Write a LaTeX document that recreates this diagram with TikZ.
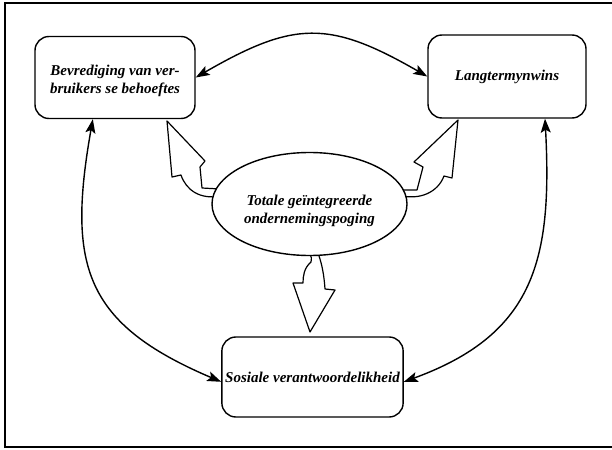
\documentclass[tikz,border=0pt]{standalone}
\usepackage{fontspec}
\setmainfont{Liberation Serif}
\usetikzlibrary{positioning,shapes.geometric,arrows.meta}

\begin{document}
\begin{tikzpicture}[x=1pt,y=1pt,>={Stealth[length=14pt,width=10pt,inset=3pt]}]
  \tikzstyle{doel}=[draw,line width=1.4pt,rounded corners=14pt,
    align=center,font=\fontsize{15}{18}\selectfont\bfseries\itshape]
  \tikzstyle{poging}=[draw,ellipse,fill=white,line width=1.4pt,inner sep=0pt,
    minimum width=195pt,minimum height=103pt,align=center,
    font=\fontsize{15}{18}\selectfont\bfseries\itshape]
  \tikzstyle{pyl}=[<->,line width=1.4pt]
  \tikzstyle{blok}=[draw,fill=white,line width=1.2pt,line join=round]
  \useasboundingbox (0,0) rectangle (612,-449);
  % frame
  \draw[line width=1.2pt] (612,-3) -- (5,-3) -- (5,-447) -- (612,-447);
  % the three goals
  \node[doel,minimum width=160pt,minimum height=82pt] (a) at (115,-77.5)
    {\rule{0pt}{17pt}Bevrediging van ver-\\bruikers se behoeftes};
  \node[doel,minimum width=158pt,minimum height=83pt] (b) at (507,-76.5)
    {Langtermynwins};
  \node[doel,minimum width=181pt,minimum height=80pt] (c) at (312.5,-377)
    {Sosiale verantwoordelikheid};
  % block arrows out of the ellipse
  \draw[blok] (220,-189) -- (202,-188) -- (200,-167) -- (205,-161) -- (167,-121)
    -- (172,-177) -- (181,-175) .. controls (186,-190) and (200,-200) .. (221,-196);
  \draw[blok] (398,-190) -- (417,-190) -- (423,-167) -- (414,-162) -- (458,-120)
    -- (452,-178) -- (444,-176) .. controls (438,-192) and (420,-201) .. (398,-195);
  \draw[blok] (300,-248) .. controls (312,-255) .. (311,-262)
    .. controls (304,-268) and (303,-276) .. (303,-283) -- (293,-283) -- (310,-332)
    -- (335,-290) -- (325,-289) .. controls (324,-275) and (322,-262) .. (316,-248);
  \node[poging] (e) at (309.5,-204)
    {\rule{0pt}{24pt}Totale geïntegreerde\\ondernemingspoging};
  % links between the goals
  \draw[pyl] (a.east) to[out=30,in=150,looseness=1.25] (b.west);
  \draw[pyl] (a.242) to[out=-100,in=157,looseness=1.3] (c.183);
  \draw[pyl] (b.312) to[out=-87,in=20,looseness=1.2] (c.357);
\end{tikzpicture}
\end{document}
